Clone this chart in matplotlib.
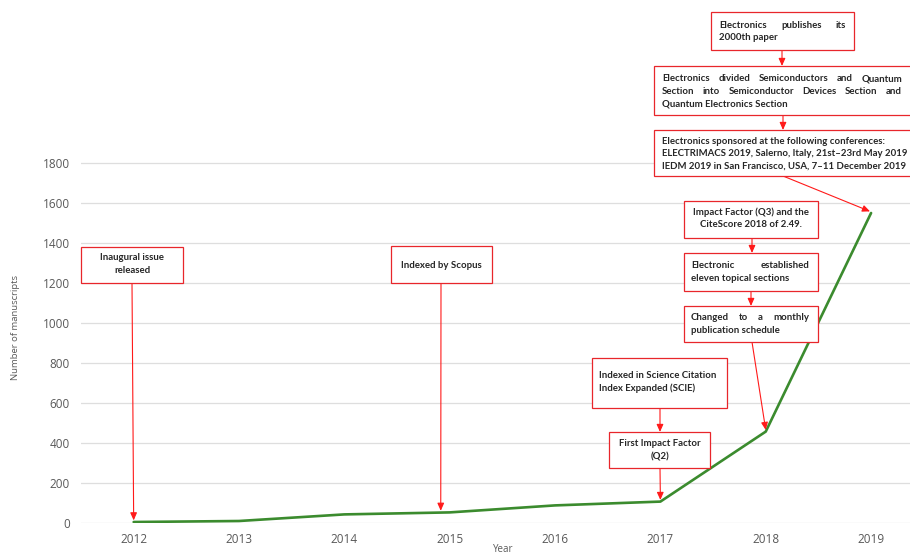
import matplotlib
matplotlib.use("Agg")
import matplotlib.pyplot as plt

W, H = 910, 553

years = [2012, 2013, 2014, 2015, 2016, 2017, 2018, 2019]
manuscripts = [5, 10, 43, 53, 88, 107, 457, 1550]
y_ticks = [0, 200, 400, 600, 800, 1000, 1200, 1400, 1600, 1800]

# milestone texts (one entry per box, lines as in the original)
milestones = [
    ["Inaugural issue", "released"],
    ["Indexed by Scopus"],
    ["Indexed in Science Citation", "Index Expanded (SCIE)"],
    ["First Impact Factor", "(Q2)"],
    ["Impact Factor (Q3) and the", "CiteScore 2018 of 2.49."],
    ["Electronic established", "eleven topical sections"],
    ["Changed to a monthly", "publication schedule"],
    ["Electronics publishes its", "2000th paper"],
    ["Electronics divided Semiconductors and Quantum",
     "Section into Semiconductor Devices Section and",
     "Quantum Electronics Section"],
    ["Electronics sponsored at the following conferences:",
     "ELECTRIMACS 2019, Salerno, Italy, 21st\u201323rd May 2019",
     "IEDM 2019 in San Francisco, USA, 7\u201311 December 2019"],
]

# layout in image pixels (from top-left): box rect, text alignment, text x range, first line y
layout = [
    dict(rect=(81, 247, 183, 283), align="center", tx=(132, 132), ty=258),
    dict(rect=(391, 246, 492, 283), align="center", tx=(441, 441), ty=265),
    dict(rect=(592, 358, 727, 408), align="left", tx=(599, 720), ty=376),
    dict(rect=(609, 432, 710, 468), align="center", tx=(660, 660), ty=444),
    dict(rect=(684, 201, 818, 238), align="center", tx=(751, 751), ty=212),
    dict(rect=(684, 253, 818, 291), align="justify", tx=(691, 809), ty=266),
    dict(rect=(684, 306, 818, 342), align="justify", tx=(691, 809), ty=318),
    dict(rect=(711, 12, 854, 50), align="justify", tx=(719, 846), ty=25),
    dict(rect=(654, 66, 915, 115), align="justify", tx=(662, 902), ty=79),
    dict(rect=(654, 130, 915, 176), align="left", tx=(662, 902), ty=141),
]
LINE_STEP = 12.5

# arrows: start in pixels, end either in pixels or on a data point (index into years)
box_arrows = [((660, 408), (660, 432)), ((752, 238), (752, 253)),
              ((751, 291), (751, 306)), ((782, 50), (782, 66)),
              ((783, 115), (783, 130))]
point_arrows = [((132, 283), 0, 0.0), ((441, 283), 3, -0.085),
                ((660, 468), 5, 0.0), ((752, 342), 6, 0.0),
                ((783, 176), 7, -0.01)]

RED = "#e8262b"
GREEN = "#3b8b2e"
GREY = "#595959"
FONT = "Lato"


def fx(x):
    return x / W


def fy(y):
    return 1 - y / H


fig = plt.figure(figsize=(W / 100, H / 100), dpi=100)
x_step = 105.3
ax_left, ax_right = 81, 134 + 7.5 * x_step
ax = fig.add_axes([fx(ax_left), fy(523), (ax_right - ax_left) / W, 523 / H])
ax.set_xlim(2011.5, 2019.5)
ax.set_ylim(0, 523 / 0.2)
ax.plot(years, manuscripts, color=GREEN, lw=1.9, solid_capstyle="round", zorder=3)

ax.set_yticks(y_ticks)
ax.set_yticklabels([str(v) for v in y_ticks])
ax.set_xticks(years)
ax.set_xticklabels([str(y) for y in years])
ax.tick_params(length=0, labelsize=8.5, labelcolor=GREY, pad=8)
for lab in ax.get_xticklabels() + ax.get_yticklabels():
    lab.set_family("Open Sans")
ax.tick_params(axis="x", pad=7)
ax.yaxis.grid(True, color="#dedede", lw=0.9)
ax.set_axisbelow(True)
for s in ax.spines.values():
    s.set_visible(False)

fig.text(fx(16), fy(327), "Number of manuscripts", rotation=90, ha="center",
         va="center", fontsize=6.8, color=GREY, family="Open Sans")
fig.text(fx(503), fy(549), "Year", ha="center", va="center", fontsize=7,
         color=GREY, family="Open Sans")

renderer = fig.canvas.get_renderer()
txt_kw = dict(fontsize=6.9, fontweight="bold", family=FONT, color="#262626", va="center")


def width_of(s):
    t = fig.text(0, 0, s, **txt_kw)
    w = t.get_window_extent(renderer).width
    t.remove()
    return w


for lines, lay in zip(milestones, layout):
    x0, y0, x1, y1 = lay["rect"]
    fig.patches.append(plt.Rectangle((fx(x0), fy(y1)), (x1 - x0) / W, (y1 - y0) / H,
                                     transform=fig.transFigure, fill=True,
                                     facecolor="white", edgecolor=RED, lw=0.9,
                                     zorder=5))
    for i, line in enumerate(lines):
        yy = fy(lay["ty"] + i * LINE_STEP)
        if lay["align"] == "center":
            fig.text(fx(lay["tx"][0]), yy, line, ha="center", zorder=6, **txt_kw)
        elif lay["align"] == "left" or i == len(lines) - 1:
            fig.text(fx(lay["tx"][0]), yy, line, ha="left", zorder=6, **txt_kw)
        else:
            words = line.split()
            widths = [width_of(w) for w in words]
            gap = (lay["tx"][1] - lay["tx"][0] - sum(widths)) / (len(words) - 1)
            xx = lay["tx"][0]
            for w, wd in zip(words, widths):
                fig.text(fx(xx), yy, w, ha="left", zorder=6, **txt_kw)
                xx += wd + gap

arrow_kw = dict(arrowstyle="-|>,head_length=0.45,head_width=0.2", color="#ff1a1a",
                lw=0.8, shrinkA=0, shrinkB=0)
for (sx, sy), (ex, ey) in box_arrows:
    ax.annotate("", xy=(ex, H - ey), xycoords="figure pixels",
                xytext=(sx, H - sy), textcoords="figure pixels",
                arrowprops=arrow_kw, annotation_clip=False, zorder=6)
for (sx, sy), idx, dx in point_arrows:
    ax.annotate("", xy=(years[idx] + dx, manuscripts[idx] + 8), xycoords="data",
                xytext=(sx, H - sy), textcoords="figure pixels",
                arrowprops=arrow_kw, annotation_clip=False, zorder=6)

fig.savefig("out.png", dpi=100)
